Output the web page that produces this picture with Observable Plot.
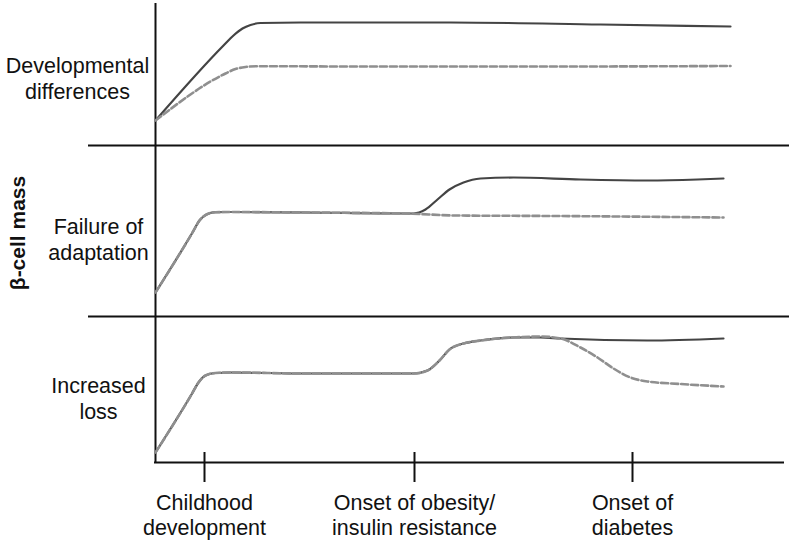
<!DOCTYPE html>
<html><head><meta charset="utf-8">
<script src="https://cdn.jsdelivr.net/npm/d3@7"></script>
<script src="https://cdn.jsdelivr.net/npm/@observablehq/plot@0.6"></script>
<style>
body{margin:0;background:#fff;}
#chart svg{display:block;}
</style></head><body><div id="chart"></div>
<script>
// Panels listed bottom to top
const panelNames = ["Increased\nloss", "Failure of\nadaptation", "Developmental\ndifferences"];
const panelSpan = [146, 171, 142];
const labelShift = [8, 8, 3];
const labelOffset = [-57, -57, -78];

// Life stages on the time axis
const stageNames = ["Childhood\ndevelopment", "Onset of obesity/\ninsulin resistance", "Onset of\ndiabetes"];
const stageT = [49, 259, 477];
const tMax = 629;

// [time, β-cell mass] per series, mass relative to each panel's baseline
const devNormal = [[0,25],[68,100],[78,110],[87,117],[95,120.5],[105,122.5],[145,123],[295,123],[445,121],[575,119]];
const devAtRisk = [[0,25],[70,72],[80,76.5],[90,78.5],[102,79.3],[200,79],[400,79],[575,79.5]];

const adaptNormal = [[0,24],[37,84],[44,96],[51,102],[60,104.3],[75,104.5],[150,104],[250,103],[258,103],[270,107],[282,117],[294,127],[308,134],[325,138],[358,139],[425,137],[492,136],[542,137],[568,138]];
const adaptAtRisk = [[0,24],[37,84],[44,96],[51,102],[60,104.3],[75,104.5],[150,104],[250,103],[300,101],[400,100.5],[568,99]];

const lossNormal = [[0,10],[36,68],[43,80],[50,87],[60,89.5],[75,90],[150,89],[258,89],[272,92],[284,102],[294,113],[308,119],[325,122],[358,125],[385,125],[405,124],[492,122],[568,124]];
const lossAtRisk = [[0,10],[36,68],[43,80],[50,87],[60,89.5],[75,90],[150,89],[258,89],[272,92],[284,102],[294,113],[308,119],[325,122],[358,125],[385,126],[405,124],[425,115],[442,105],[458,94],[475,85],[492,81],[525,78.5],[568,76]];

const base = panelSpan.map((s, i) => d3.sum(panelSpan.slice(0, i)));
const total = d3.sum(panelSpan);

const seriesList = [
  {panel: 2, kind: "normal", pts: devNormal},
  {panel: 2, kind: "atrisk", pts: devAtRisk},
  {panel: 1, kind: "normal", pts: adaptNormal},
  {panel: 1, kind: "atrisk", pts: adaptAtRisk},
  {panel: 0, kind: "normal", pts: lossNormal},
  {panel: 0, kind: "atrisk", pts: lossAtRisk}
];
const rows = seriesList.flatMap((s, k) => s.pts.map(([t, m]) => ({key: k, kind: s.kind, t, y: base[s.panel] + m})));

const font = "'Liberation Sans', Arial, Helvetica, sans-serif";

const chart = Plot.plot({
  width: 789,
  height: 543,
  marginLeft: 155,
  marginRight: 5,
  marginTop: 3,
  marginBottom: 81,
  x: {domain: [0, tMax], axis: null},
  y: {domain: [0, total], axis: null},
  style: {fontFamily: font, color: "#111", background: "white"},
  marks: [
    // panel separators
    Plot.ruleY(base.slice(1), {x1: -67, x2: tMax + 5, stroke: "#111", strokeWidth: 2}),
    // vertical axis
    Plot.ruleX([0], {y1: 0, y2: total, stroke: "#111", strokeWidth: 2}),
    // time axis
    Plot.ruleY([0], {x1: -1, x2: tMax, stroke: "#111", strokeWidth: 2}),
    Plot.ruleX(stageT, {y1: 10, y2: -20, stroke: "#111", strokeWidth: 2}),
    Plot.text(stageT, {x: d => d, y: 0, text: (d, i) => stageNames[i], dy: 30, lineAnchor: "top", fontSize: 21.5, lineHeight: 1.16, fill: "#111"}),
    // curves
    Plot.line(rows.filter(d => d.kind === "normal"), {x: "t", y: "y", z: "key", curve: "monotone-x", stroke: "#444", strokeWidth: 2.2}),
    Plot.line(rows.filter(d => d.kind === "atrisk"), {x: "t", y: "y", z: "key", curve: "monotone-x", stroke: "#8f8f8f", strokeWidth: 2.6, strokeDasharray: "7,3"}),
    // panel labels
    Plot.text(panelNames, {x: (d, i) => labelOffset[i], y: (d, i) => base[i] + panelSpan[i] / 2 - labelShift[i], text: d => d, fontSize: 21.5, lineHeight: 1.2, textAnchor: "middle", fill: "#111"}),
    // y label
    Plot.text(["β-cell mass"], {frameAnchor: "left", dx: -137, rotate: -90, textAnchor: "middle", text: d => d, fontSize: 21, fontWeight: "bold", fill: "#111"})
  ]
});
document.getElementById("chart").appendChild(chart);
</script></body></html>
